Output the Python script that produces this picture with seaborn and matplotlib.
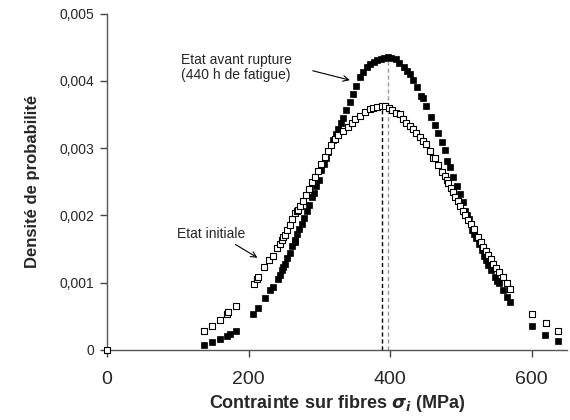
import numpy as np
import pandas as pd
import seaborn as sns
import matplotlib.pyplot as plt

# valeurs (contrainte en MPa, densite de probabilite)
x_rupture = [137, 149, 160, 170, 174, 182, 207, 213, 223, 230, 234, 241, 244, 247, 249, 251,
             255, 258, 262, 265, 266, 269, 272, 275, 278, 282, 285, 289, 292, 296, 299, 303,
             306, 310, 313, 317, 320, 324, 327, 331, 334, 338, 343, 348, 352, 357, 362, 367,
             372, 377, 382, 387, 392, 397, 402, 408, 413, 419, 424, 428, 433, 438, 444, 447,
             451, 458, 463, 468, 473, 477, 481, 484, 489, 494, 499, 503, 506, 509, 512, 516,
             519, 522, 526, 530, 533, 536, 539, 543, 548, 551, 554, 559, 565, 569, 601, 619,
             638]
y_rupture = [0.000074, 0.000123, 0.000163, 0.000207, 0.000232, 0.000287, 0.00054, 0.00063,
             0.00077, 0.00089, 0.00094, 0.00105, 0.00112, 0.00119, 0.00124, 0.00128, 0.00137,
             0.00144, 0.00154, 0.00163, 0.00160, 0.00173, 0.00180, 0.00187, 0.00196, 0.00207,
             0.00216, 0.00227, 0.00234, 0.00244, 0.00253, 0.00267, 0.00276, 0.00286, 0.00294,
             0.00304, 0.00312, 0.00321, 0.00328, 0.00337, 0.00345, 0.00356, 0.00368, 0.00380,
             0.00392, 0.00405, 0.00413, 0.00420, 0.00425, 0.00428, 0.00431, 0.00433, 0.00434,
             0.00435, 0.00434, 0.00432, 0.00427, 0.00421, 0.00415, 0.00410, 0.00402, 0.00391,
             0.00377, 0.00374, 0.00362, 0.00347, 0.00335, 0.00323, 0.00309, 0.00297, 0.00281,
             0.00272, 0.00257, 0.00243, 0.00232, 0.00220, 0.00207, 0.00200, 0.00195, 0.00179,
             0.00173, 0.00167, 0.00158, 0.00148, 0.00140, 0.00133, 0.00127, 0.00119, 0.00108,
             0.00103, 0.00099, 0.00089, 0.00079, 0.00072, 0.00035, 0.00022, 0.00013]

x_initiale = [0, 137, 149, 160, 169, 171, 182, 208, 212, 214, 222, 229, 235, 240, 244, 247,
              249, 251, 255, 258, 262, 265, 268, 270, 273, 277, 281, 286, 290, 294, 298, 303,
              308, 313, 317, 322, 327, 334, 340, 346, 351, 357, 364, 371, 376, 381, 388, 393,
              398, 403, 409, 414, 418, 423, 428, 433, 437, 442, 447, 451, 456, 461, 463, 468,
              473, 477, 480, 482, 486, 489, 492, 496, 499, 503, 506, 510, 514, 518, 524, 528,
              532, 535, 539, 542, 546, 550, 554, 559, 565, 570, 601, 620, 637]
y_initiale = [0.0, 0.00028, 0.00036, 0.00044, 0.00053, 0.00056, 0.00065, 0.00098, 0.00106,
              0.00108, 0.00123, 0.00133, 0.00140, 0.00151, 0.00158, 0.00163, 0.00168, 0.00171,
              0.00179, 0.00186, 0.00194, 0.00203, 0.00206, 0.00208, 0.00214, 0.00222, 0.00230,
              0.00240, 0.00249, 0.00257, 0.00266, 0.00277, 0.00287, 0.00296, 0.00304, 0.00314,
              0.00320, 0.00326, 0.00332, 0.00338, 0.00343, 0.00348, 0.00354, 0.00358, 0.00360,
              0.00361, 0.00362, 0.00362, 0.00360, 0.00357, 0.00352, 0.00350, 0.00344, 0.00338,
              0.00333, 0.00328, 0.00323, 0.00317, 0.00310, 0.00306, 0.00296, 0.00286, 0.00285,
              0.00275, 0.00264, 0.00258, 0.00252, 0.00248, 0.00241, 0.00235, 0.00227, 0.00222,
              0.00214, 0.00207, 0.00201, 0.00193, 0.00187, 0.00180, 0.00168, 0.00160, 0.00153,
              0.00147, 0.00141, 0.00135, 0.00128, 0.00122, 0.00116, 0.00108, 0.00099, 0.00090,
              0.00054, 0.00040, 0.00028]

# positions des maxima
pic_initiale = (388, 0.00362)
pic_rupture = (397, 0.00435)

x_ticks = [0, 200, 400, 600]
y_ticks = [0, 0.001, 0.002, 0.003, 0.004, 0.005]
y_tick_labels = ['0', '0,001', '0,002', '0,003', '0,004', '0,005']

sns.set_style('ticks')
plt.rcParams['font.family'] = ['Liberation Sans', 'DejaVu Sans']
plt.rcParams['mathtext.fontset'] = 'dejavusans'

df_r = pd.DataFrame({'x': x_rupture, 'y': y_rupture})
df_i = pd.DataFrame({'x': x_initiale, 'y': y_initiale})

fig = plt.figure(figsize=(5.7, 4.2), dpi=100)
ax = fig.add_axes([0.1877, 0.1667, 0.807, 0.801])

# lignes pointillees verticales aux maxima
ax.plot([pic_rupture[0], pic_rupture[0]], [0, pic_rupture[1]], ls=(0, (3, 2)), color='#999999', lw=1.0)
ax.plot([pic_initiale[0], pic_initiale[0]], [0, pic_initiale[1]], ls=(0, (3, 2)), color='black', lw=1.0)

sns.scatterplot(data=df_r, x='x', y='y', marker='s', s=18, color='black',
                edgecolor='black', linewidth=0.5, ax=ax, zorder=3, clip_on=False)
sns.scatterplot(data=df_i, x='x', y='y', marker='s', s=14, facecolor='white',
                edgecolor='black', linewidth=0.8, ax=ax, zorder=4, clip_on=False)

ax.set_xlim(0, 650)
ax.set_ylim(0, 0.005)
ax.set_xticks(x_ticks)
ax.set_xticklabels([str(v) for v in x_ticks], fontsize=14)
ax.set_yticks(y_ticks)
ax.set_yticklabels(y_tick_labels, fontsize=10)
ax.tick_params(axis='both', direction='out', length=5, width=1, color='#444444', pad=4)
ax.tick_params(axis='x', pad=10)

for side in ['top', 'right']:
    ax.spines[side].set_visible(False)
for side in ['left', 'bottom']:
    ax.spines[side].set_color('#555555')
    ax.spines[side].set_linewidth(1.0)

ax.set_xlabel(r'Contrainte sur fibres $\mathbfit{\sigma_i}$ (MPa)', fontsize=13, fontweight='bold')
ax.set_ylabel('Densité de probabilité', fontsize=12, fontweight='bold', labelpad=14)

ax.text(104, 0.0042, 'Etat avant rupture\n(440 h de fatigue)', fontsize=10,
        ha='left', va='center', linespacing=1.1)
ax.annotate('', xy=(347, 0.0040), xytext=(287, 0.00416),
            arrowprops=dict(arrowstyle='->', color='black', lw=0.8))

ax.text(99, 0.00172, 'Etat initiale', fontsize=10, ha='left', va='center')
ax.annotate('', xy=(216, 0.00135), xytext=(178, 0.00159),
            arrowprops=dict(arrowstyle='->', color='black', lw=0.8))

fig.savefig('out.png', dpi=100)
